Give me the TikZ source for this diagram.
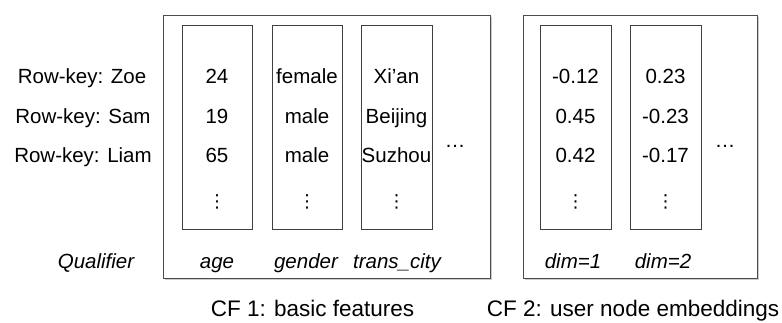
\documentclass[tikz,border=0pt]{standalone}
\usepackage{fontspec}
\setmainfont{Liberation Sans}
\newfontfamily\symfont{DejaVu Sans}
\usetikzlibrary{shadows}
\newcommand\colvdots{{\symfont\fontsize{18}{20}\selectfont ⋮}}
\begin{document}
\begin{tikzpicture}[x=1pt,y=-1pt,
  every node/.style={font=\fontsize{20.5}{24}\selectfont, inner sep=0pt, text=black},
  txt/.style={anchor=base},
  family/.style={draw=black!70, line width=0.8pt, fill=white, minimum height=263pt,
    drop shadow={shadow xshift=1.6pt, shadow yshift=-1.6pt, opacity=0.4}},
  column/.style={draw=black!75, line width=0.9pt, minimum width=70pt, minimum height=204pt},
  qual/.style={anchor=base, font=\fontsize{20.5}{24}\selectfont\itshape},
  caption/.style={anchor=base, font=\fontsize{22.5}{26}\selectfont}]
\useasboundingbox (0,0) rectangle (782,322);

% column families
\node[family, minimum width=327pt] (cf1) at (326.5,146.5) {};
\node[family, minimum width=234pt] (cf2) at (640,146.5) {};

% qualifier columns
\node[column] (age) at (217,127) {};
\node[column] (gender) at (307,127) {};
\node[column, minimum width=71pt] (city) at (396.5,127) {};
\node[column, minimum width=71pt] (dim1) at (575.5,127) {};
\node[column, minimum width=71pt] (dim2) at (665.5,127) {};

% row keys
\node[txt] (rk1) at (82,83.5) {Row-key: Zoe};
\node[txt] (rk2) at (83,123) {Row-key: Sam};
\node[txt] (rk3) at (83,162.5) {Row-key: Liam};

% cells of CF 1
\node[txt] (a1) at (217,83.5) {24};
\node[txt] (a2) at (217,123) {19};
\node[txt] (a3) at (217,162.5) {65};
\node (a4) at (217,201.5) {\colvdots};
\node[txt] (g1) at (307,83.5) {female};
\node[txt] (g2) at (307,123) {male};
\node[txt] (g3) at (307,162.5) {male};
\node (g4) at (307,201.5) {\colvdots};
\node[txt] (c1) at (396.5,83.5) {Xi’an};
\node[txt] (c2) at (396.5,123) {Beijing};
\node[txt] (c3) at (396.5,162.5) {Suzhou};
\node (c4) at (396.5,201.5) {\colvdots};
\node[txt] (m1) at (455,147) {…};

% cells of CF 2
\node[txt] (d1) at (575.5,83.5) {-0.12};
\node[txt] (d2) at (575.5,123) {0.45};
\node[txt] (d3) at (575.5,162.5) {0.42};
\node (d4) at (575.5,201.5) {\colvdots};
\node[txt] (e1) at (665.5,83.5) {0.23};
\node[txt] (e2) at (665.5,123) {-0.23};
\node[txt] (e3) at (665.5,162.5) {-0.17};
\node (e4) at (665.5,201.5) {\colvdots};
\node[txt] (m2) at (725,147) {…};

% qualifier names
\node[qual] (q0) at (96,268) {Qualifier};
\node[qual] (q1) at (217,268) {age};
\node[qual] (q2) at (306,268) {gender};
\node[qual] (q3) at (397,268) {trans\_city};
\node[qual] (q4) at (573,268) {dim=1};
\node[qual] (q5) at (663,268) {dim=2};

% captions
\node[caption] (cap1) at (312.5,316) {CF 1: basic features};
\node[caption] (cap2) at (633,316) {CF 2: user node embeddings};
\end{tikzpicture}
\end{document}
